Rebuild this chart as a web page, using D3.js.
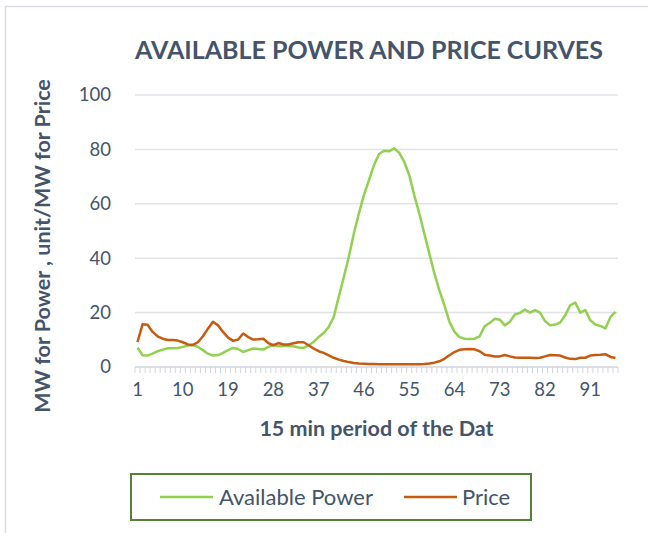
<!DOCTYPE html>
<html>
<head>
<meta charset="utf-8">
<script src="https://cdn.jsdelivr.net/npm/d3@7"></script>
<style>
  body { margin: 0; background: #fff; }
  svg { font-family: Lato, "Open Sans", sans-serif; }
</style>
</head>
<body>
<div id="viz-container"></div>
<script>
// values, one per 15 min period (1..96)
let availablePower = [
    7.1, 4.3, 4.2, 4.9, 5.8, 6.4, 6.9, 6.9, 7.0, 7.4,
    7.9, 8.1, 7.4, 6.2, 4.9, 4.2, 4.4, 5.2, 6.2, 7.0,
    6.6, 5.5, 6.2, 6.8, 6.6, 6.4, 7.4, 8.1, 7.6, 7.7,
    7.7, 7.6, 7.2, 7.0, 8.0, 9.2, 11.0, 12.5, 14.7, 18.4,
    25.8, 33.1, 40.5, 49.1, 56.5, 63.2, 68.7, 74.2, 78.3, 79.5,
    79.3, 80.4, 78.8, 75.5, 70.6, 63.2, 56.5, 49.1, 41.7, 34.4,
    28.2, 22.7, 16.6, 12.9, 11.0, 10.4, 10.3, 10.4, 11.3, 15.0,
    16.2, 17.7, 17.4, 15.3, 16.6, 19.3, 19.9, 21.1, 20.0, 20.9,
    20.0, 16.9, 15.3, 15.6, 16.3, 19.0, 22.7, 23.7, 20.0, 20.9,
    17.2, 15.6, 15.1, 14.2, 18.4, 20.3
]
let price = [
    9.2, 15.7, 15.5, 12.9, 11.3, 10.4, 9.9, 9.9, 9.7, 9.1,
    8.3, 8.1, 9.1, 11.3, 14.1, 16.6, 15.3, 12.9, 10.8, 9.6,
    10.1, 12.3, 11.0, 10.1, 10.2, 10.4, 8.8, 8.0, 8.8, 8.3,
    8.3, 8.7, 9.1, 9.1, 8.0, 6.8, 5.8, 5.2, 4.3, 3.4,
    2.7, 2.2, 1.8, 1.5, 1.3, 1.2, 1.1, 1.1, 1.0, 1.0,
    1.0, 1.0, 1.0, 1.0, 1.0, 1.0, 1.0, 1.1, 1.3, 1.6,
    2.1, 3.0, 4.3, 5.5, 6.3, 6.5, 6.6, 6.5, 5.8, 4.5,
    4.2, 3.9, 3.9, 4.4, 3.9, 3.5, 3.4, 3.4, 3.4, 3.3,
    3.4, 3.9, 4.4, 4.3, 4.2, 3.5, 3.0, 2.9, 3.4, 3.4,
    4.2, 4.4, 4.5, 4.7, 3.7, 3.3
]
let periods = d3.range(1, 97)
let xTickLabels = [1, 10, 19, 28, 37, 46, 55, 64, 73, 82, 91]
let yTicks = [0, 20, 40, 60, 80, 100]
let seriesNames = ['Available Power', 'Price']
let seriesColors = ['#92d050', '#c55a11']

let textColor = '#44546a'
let w = 648, h = 533
let plotL = 135, plotR = 618, plotT = 95, plotB = 367

let viz = d3.select('#viz-container')
    .append('svg')
    .attr('width', w)
    .attr('height', h)

// outer chart frame (only top and left show in the picture)
viz.append('path')
    .attr('d', `M5.5,${h} V6.5 H${w}`)
    .attr('fill', 'none')
    .attr('stroke', '#d9dde3')
    .attr('stroke-width', 1.5)

let x = d3.scaleBand().domain(periods).range([plotL, plotR])
let y = d3.scaleLinear().domain([0, 100]).range([plotB, plotT])

// gridlines
viz.selectAll('.grid').data(yTicks.filter(t => t > 0)).enter()
    .append('line')
    .attr('x1', plotL).attr('x2', plotR)
    .attr('y1', d => y(d)).attr('y2', d => y(d))
    .attr('stroke', '#dfe3e8')
    .attr('stroke-width', 1.5)

// y labels
viz.selectAll('.ylab').data(yTicks).enter()
    .append('text')
    .attr('x', 111)
    .attr('y', d => y(d))
    .attr('dy', '0.35em')
    .attr('text-anchor', 'end')
    .attr('font-size', '18.5px')
    .attr('fill', textColor)
    .text(d => d)

// x axis with a small tick at every category boundary
let xAxis = viz.append('g').attr('transform', `translate(0,${plotB})`)
xAxis.append('line')
    .attr('x1', plotL).attr('x2', plotR)
    .attr('stroke', '#d0d5dd').attr('stroke-width', 1.5)
xAxis.selectAll('.tk').data(d3.range(0, 97)).enter()
    .append('line')
    .attr('x1', i => plotL + i * x.step()).attr('x2', i => plotL + i * x.step())
    .attr('y1', 0).attr('y2', 6)
    .attr('stroke', '#d0d5dd').attr('stroke-width', 1)
xAxis.selectAll('.xlab').data(xTickLabels).enter()
    .append('text')
    .attr('x', d => x(d) + x.bandwidth() / 2)
    .attr('y', 23)
    .attr('dy', '0.35em')
    .attr('text-anchor', 'middle')
    .attr('font-size', '18.5px')
    .attr('fill', textColor)
    .text(d => d)

// lines
let line = d3.line()
    .x((d, i) => x(periods[i]) + x.bandwidth() / 2)
    .y(d => y(d))

;[availablePower, price].forEach((s, k) => {
    viz.append('path')
        .datum(s)
        .attr('d', line)
        .attr('fill', 'none')
        .attr('stroke', seriesColors[k])
        .attr('stroke-width', 2.5)
        .attr('stroke-linejoin', 'round')
})

// titles
viz.append('text')
    .attr('x', 369).attr('y', 50)
    .attr('dy', '0.35em')
    .attr('text-anchor', 'middle')
    .attr('font-size', '25px')
    .attr('font-weight', 'bold')
    .attr('fill', textColor)
    .text('AVAILABLE POWER AND PRICE CURVES')

viz.append('text')
    .attr('x', (plotL + plotR) / 2).attr('y', 428)
    .attr('dy', '0.35em')
    .attr('text-anchor', 'middle')
    .attr('font-size', '21.5px')
    .attr('font-weight', 'bold')
    .attr('fill', textColor)
    .text('15 min period of the Dat')

viz.append('text')
    .attr('transform', 'translate(42,246) rotate(-90)')
    .attr('dy', '0.35em')
    .attr('text-anchor', 'middle')
    .attr('font-size', '21.5px')
    .attr('font-weight', 'bold')
    .attr('fill', textColor)
    .text('MW for Power , unit/MW for Price')

// legend
let legend = viz.append('g')
legend.append('rect')
    .attr('x', 131).attr('y', 474)
    .attr('width', 400).attr('height', 46)
    .attr('fill', 'none')
    .attr('stroke', '#548235')
    .attr('stroke-width', 2)
let legendX = [[160, 219], [404, 462]]
seriesNames.forEach((name, k) => {
    legend.append('line')
        .attr('x1', legendX[k][0]).attr('x2', legendX[k][0] + 53)
        .attr('y1', 497).attr('y2', 497)
        .attr('stroke', seriesColors[k])
        .attr('stroke-width', 2.5)
    legend.append('text')
        .attr('x', legendX[k][1]).attr('y', 497)
        .attr('dy', '0.35em')
        .attr('font-size', '22px')
        .attr('fill', textColor)
        .text(name)
})
</script>
</body>
</html>
